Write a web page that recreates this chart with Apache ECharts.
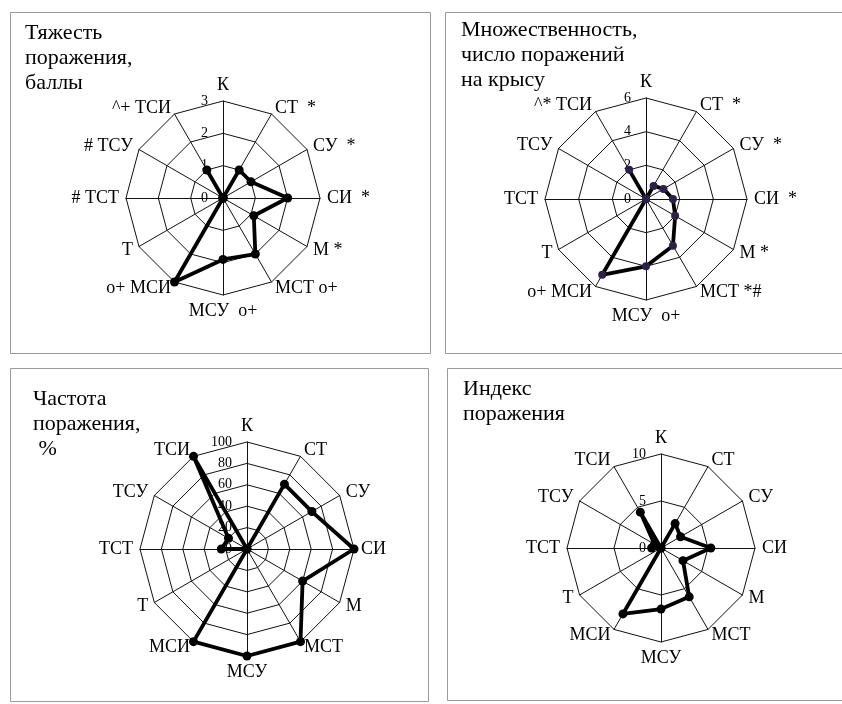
<!DOCTYPE html>
<html>
<head>
<meta charset="utf-8">
<script src="https://cdn.jsdelivr.net/npm/echarts@6/dist/echarts.min.js"></script>
<style>
    html, body { margin: 0; padding: 0; background: #fff; }
    #chart { width: 842px; height: 704px; }
</style>
</head>
<body>
<div id="chart"></div>
<script>
// порядок осей по часовой стрелке, начиная сверху
var axes = ['К', 'СТ', 'СУ', 'СИ', 'М', 'МСТ', 'МСУ', 'МСИ', 'Т', 'ТСТ', 'ТСУ', 'ТСИ'];

// подписи осей с метками значимости
var names1 = ['К', 'СТ  *', 'СУ  *', 'СИ  *', 'М *', 'МСТ о+', 'МСУ  о+', 'о+ МСИ', 'Т', '# ТСТ', '# ТСУ', '^+ ТСИ'];
var names2 = ['К', 'СТ  *', 'СУ  *', 'СИ  *', 'М *', 'МСТ *#', 'МСУ  о+', 'о+ МСИ', 'Т', 'ТСТ', 'ТСУ', '^* ТСИ'];
var names3 = axes;
var names4 = axes;

// тяжесть поражения, баллы
var severity = [0, 1.0, 1.0, 2.0, 1.1, 2.0, 1.9, 3.0, 0, 0, 0, 1.0];
// множественность, число поражений на крысу
var multiplicity = [0, 0.9, 1.2, 1.6, 2.0, 3.2, 4.0, 5.2, 0, 0, 0, 2.0];
// частота поражения, %
var frequency = [0, 70, 70, 100, 60, 100, 100, 100, 0, 24, 20, 100];
// индекс поражения
var damageIndex = [0, 3.0, 2.4, 5.3, 2.7, 6.0, 6.5, 8.1, 0, 1.0, 0.8, 4.4];

var maxValues = [3, 6, 100, 10];
var splitNumbers = [3, 3, 5, 2];

var titles = ['Тяжесть\nпоражения,\nбаллы', 'Множественность,\nчисло поражений\nна крысу', 'Частота\nпоражения,\n %', 'Индекс\nпоражения'];

var FONT = 'Liberation Serif';

// echarts рисует оси радара против часовой стрелки, переставляем
function ccw(arr) {
    return [arr[0]].concat(arr.slice(1).reverse());
}

function makeIndicator(names, max) {
    var list = [];
    ccw(names).forEach(function (name, i) {
        var item = { name: name, max: max, min: 0 };
        if (i == 0) {
            // шкала значений только на первой оси
            item.axisLabel = {
                show: true,
                color: '#000',
                fontFamily: FONT,
                fontSize: 14,
                margin: 15
            };
        }
        list.push(item);
    });
    return list;
}

function makeRadar(names, idx, center, radius) {
    return {
        center: center,
        radius: radius,
        startAngle: 90,
        shape: 'polygon',
        splitNumber: splitNumbers[idx],
        nameGap: 7,
        axisName: {
            color: '#000',
            fontFamily: FONT,
            fontSize: 18
        },
        axisLine: { lineStyle: { color: '#111', width: 1 } },
        splitLine: { lineStyle: { color: '#111', width: 1 } },
        splitArea: { show: false },
        axisTick: { show: false },
        axisLabel: { show: false },
        indicator: makeIndicator(names, maxValues[idx])
    };
}

function makeSeries(values, idx, dotColor, size) {
    return {
        type: 'radar',
        radarIndex: idx,
        symbol: 'circle',
        symbolSize: size,
        silent: true,
        z: 3,
        lineStyle: { color: '#000', width: 3.8 },
        itemStyle: { color: dotColor },
        data: [{ value: ccw(values) }]
    };
}

function makeTitle(text, left, top) {
    return {
        text: text,
        left: left,
        top: top,
        padding: 0,
        textStyle: {
            color: '#000',
            fontFamily: FONT,
            fontSize: 22,
            fontWeight: 'normal',
            lineHeight: 25
        }
    };
}

function panel(x, y, w, h) {
    return {
        type: 'rect',
        silent: true,
        shape: { x: x, y: y, width: w, height: h },
        style: { fill: 'none', stroke: '#9a9a9a', lineWidth: 1 }
    };
}

var myCharts = echarts.init(document.getElementById('chart'), null, { renderer: 'canvas' });
var option = {
    backgroundColor: '#fff',
    animation: false,
    title: [
        makeTitle(titles[0], 25, 21),
        makeTitle(titles[1], 461, 18),
        makeTitle(titles[2], 33, 387),
        makeTitle(titles[3], 463, 377)
    ],
    graphic: [
        panel(10.5, 12.5, 420, 341),
        panel(445.5, 12.5, 420, 341),
        panel(10.5, 368.5, 418, 333),
        panel(447.5, 368.5, 420, 332)
    ],
    radar: [
        makeRadar(names1, 0, [223, 198], 97),
        makeRadar(names2, 1, [646, 199], 101),
        makeRadar(names3, 2, [247, 549], 107),
        makeRadar(names4, 3, [661, 548], 94)
    ],
    series: [
        makeSeries(severity, 0, '#000', 9),
        makeSeries(multiplicity, 1, '#2e2148', 8),
        makeSeries(frequency, 2, '#000', 9),
        makeSeries(damageIndex, 3, '#000', 9)
    ]
};
myCharts.setOption(option);
</script>
</body>
</html>
